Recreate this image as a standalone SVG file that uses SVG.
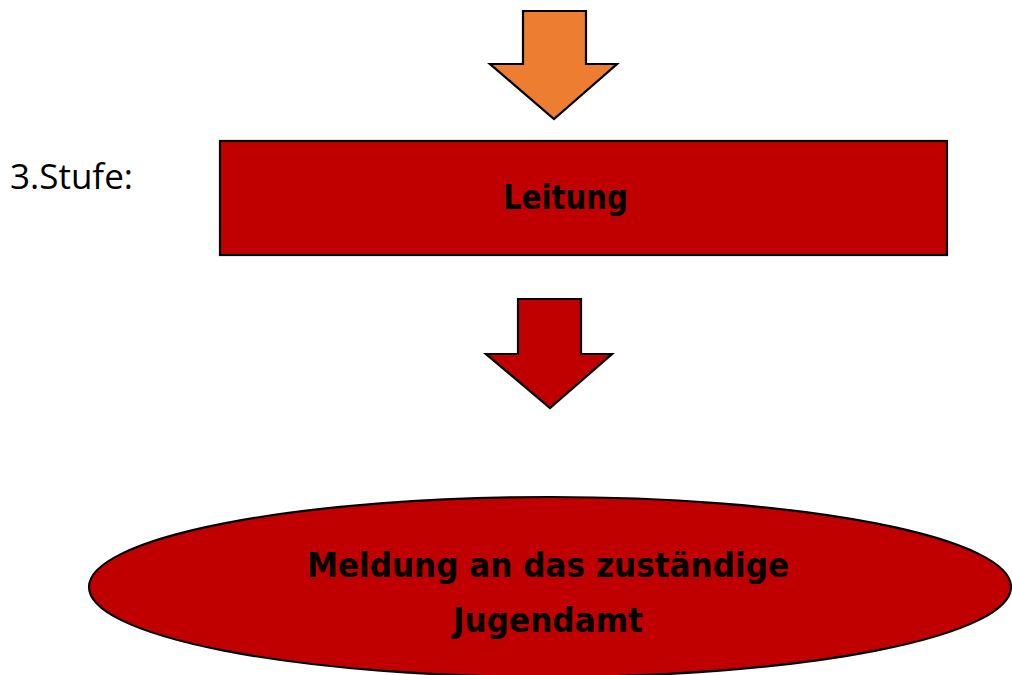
<svg xmlns="http://www.w3.org/2000/svg" width="1012" height="675" viewBox="0 0 1012 675">
<style>
.shape{stroke:#000;stroke-width:2.2;stroke-linejoin:miter}
.red{fill:#C00000}
.orange{fill:#ED7D31}
.lbl{font-family:"Comic Sans MS","DejaVu Sans",sans-serif;font-weight:bold;fill:#000}
.side{font-family:"Open Sans","Noto Sans",sans-serif;font-size:34px;fill:#000}
</style>
<rect width="1012" height="675" fill="#fff"/>
<g id="connectors">
<polygon class="shape orange" points="523,11 586,11 586,64 617,64 554,119 490,64 523,64"/>
<polygon class="shape red" points="518,299 581,299 581,354 612,354 550,408 486,354 518,354"/>
</g>
<g id="label-stufe">
<text class="side" x="10" y="189" textLength="123" lengthAdjust="spacingAndGlyphs">3.Stufe:</text>
</g>
<g id="node-leitung">
<rect class="shape red" x="220" y="141" width="727" height="114"/>
<text class="lbl" x="503" y="209" font-size="34" textLength="125" lengthAdjust="spacingAndGlyphs">Leitung</text>
</g>
<g id="node-meldung">
<ellipse class="shape red" cx="550" cy="587" rx="461" ry="90"/>
<text class="lbl" x="307" y="577" font-size="34" textLength="482" lengthAdjust="spacingAndGlyphs">Meldung an das zuständige</text>
<text class="lbl" x="453" y="632" font-size="34" textLength="190" lengthAdjust="spacingAndGlyphs">Jugendamt</text>
</g>
</svg>
